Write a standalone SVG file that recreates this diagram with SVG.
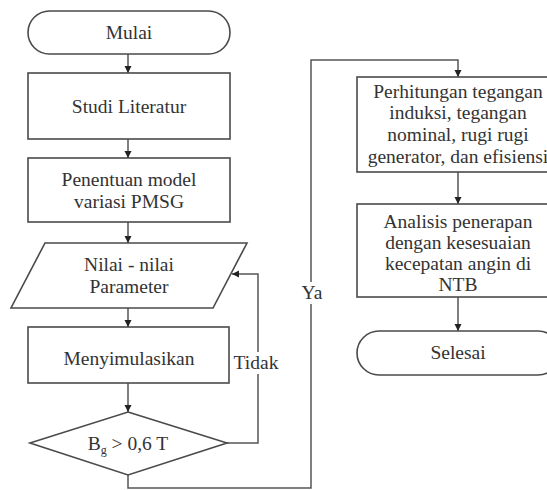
<svg xmlns="http://www.w3.org/2000/svg" width="547" height="490" viewBox="0 0 547 490">
<style>
.s{fill:#fff;stroke:#4a4a4a;stroke-width:1.6}
.t{font-family:"Liberation Serif","Times New Roman",serif;font-size:19.5px;fill:#333;text-anchor:middle}
.c{fill:none;stroke:#555;stroke-width:1.5}
.lb{fill:#fff}
</style>
<defs>
<marker id="ah" markerWidth="8" markerHeight="8" refX="7" refY="4" orient="auto" markerUnits="userSpaceOnUse">
<path d="M0,0.5 L7,4 L0,7.5 Z" fill="#222"/>
</marker>
</defs>
<rect width="547" height="490" fill="#fff"/>
<g id="connectors">
<path class="c" d="M128,54 V73" marker-end="url(#ah)"/>
<path class="c" d="M128,139 V158" marker-end="url(#ah)"/>
<path class="c" d="M128,222 V243" marker-end="url(#ah)"/>
<path class="c" d="M128,308 V327" marker-end="url(#ah)"/>
<path class="c" d="M128,383 V412" marker-end="url(#ah)"/>
<path class="c" d="M227,443 H258 V274 H232" marker-end="url(#ah)"/>
<path class="c" d="M128,475 V488 H311 V60 H458 V77" marker-end="url(#ah)"/>
<path class="c" d="M458,172 V204" marker-end="url(#ah)"/>
<path class="c" d="M458,297 V331" marker-end="url(#ah)"/>
<rect class="lb" x="233" y="352" width="46" height="22"/>
<text class="t" x="256" y="369">Tidak</text>
<rect class="lb" x="300" y="282" width="24" height="22"/>
<text class="t" x="312" y="299">Ya</text>
</g>
<g id="mulai">
<rect class="s" x="28" y="11" width="202" height="43" rx="21.5"/>
<text class="t" x="129" y="39">Mulai</text>
</g>
<g id="studi">
<rect class="s" x="28" y="73" width="202" height="66"/>
<text class="t" x="129" y="113">Studi Literatur</text>
</g>
<g id="penentuan">
<rect class="s" x="28" y="158" width="202" height="64"/>
<text class="t" x="129" y="186">Penentuan model</text>
<text class="t" x="129" y="208">variasi PMSG</text>
</g>
<g id="nilai">
<polygon class="s" points="45,243 247,243 213,308 11,308"/>
<text class="t" x="129" y="271">Nilai - nilai</text>
<text class="t" x="129" y="293">Parameter</text>
</g>
<g id="menyimulasikan">
<rect class="s" x="28" y="327" width="201" height="56"/>
<text class="t" x="129" y="365">Menyimulasikan</text>
</g>
<g id="keputusan">
<polygon class="s" points="128,412 227,443 128,475 30,443"/>
<text class="t" x="128" y="450">B<tspan font-size="12" dy="4">g</tspan><tspan dy="-4"> &gt; 0,6 T</tspan></text>
</g>
<g id="perhitungan">
<rect class="s" x="357" y="77" width="203" height="95"/>
<text class="t" x="458" y="98">Perhitungan tegangan</text>
<text class="t" x="458" y="119">induksi, tegangan</text>
<text class="t" x="458" y="141">nominal, rugi rugi</text>
<text class="t" x="458" y="163">generator, dan efisiensi</text>
</g>
<g id="analisis">
<rect class="s" x="357" y="204" width="203" height="93"/>
<text class="t" x="458" y="228">Analisis penerapan</text>
<text class="t" x="458" y="249">dengan kesesuaian</text>
<text class="t" x="458" y="270">kecepatan angin di</text>
<text class="t" x="458" y="291">NTB</text>
</g>
<g id="selesai">
<rect class="s" x="357" y="331" width="203" height="44" rx="22"/>
<text class="t" x="458" y="359">Selesai</text>
</g>
</svg>
